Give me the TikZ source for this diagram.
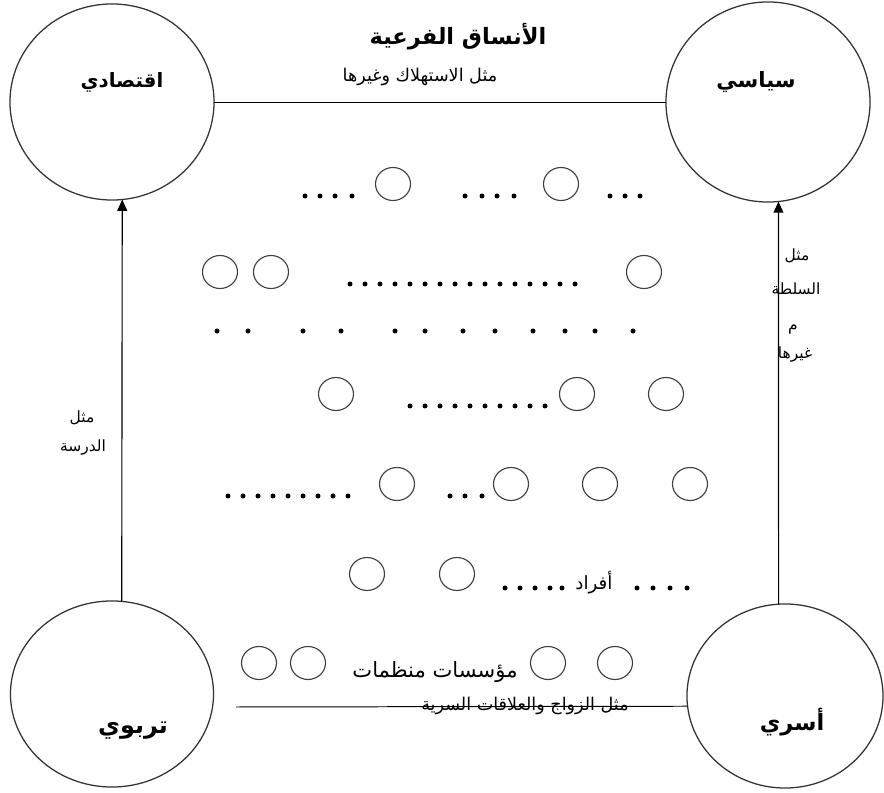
\documentclass[tikz,border=0pt]{standalone}
\usepackage{fontspec}
\usetikzlibrary{shapes.geometric,arrows.meta}
\newfontfamily\arabicfont[Script=Arabic]{DejaVu Sans}
\TeXXeTstate=1
\newcommand{\rtl}[1]{\beginR #1\endR}
\newcommand{\fsz}[1]{\fontsize{#1}{#1}\selectfont}

\tikzset{
  sys/.style={draw, ellipse, line width=0.9pt, draw=black!80, inner sep=0pt, outer sep=0pt},
  conn/.style={line width=0.7pt},
  arr/.style={line width=0.8pt, -{Triangle[length=8pt,width=7pt]}},
  unit/.style={line width=0.8pt, draw=black!75},
  bigtxt/.style={font=\arabicfont\bfseries\fsz{15}},
  midtxt/.style={font=\arabicfont\fsz{14}},
  smalltxt/.style={font=\arabicfont\fsz{11}}
}

\begin{document}
\begin{tikzpicture}[x=0.025cm, y=-0.025cm]
  \useasboundingbox (0,0) rectangle (884,793);

  \node[sys, minimum width=5.1cm, minimum height=4.9cm] (econ) at (112,102) {};
  \node[sys, minimum width=5.1cm, minimum height=5cm] (pol) at (768,102) {};
  \node[sys, minimum width=5.075cm, minimum height=4.65cm] (edu) at (112,694) {};
  \node[sys, minimum width=4.9cm, minimum height=4.6cm] (fam) at (785,696) {};

  \node[bigtxt, font=\arabicfont\bfseries\fsz{14}] (econlbl) at (122,82) {\rtl{اقتصادي}};
  \node[bigtxt] (pollbl) at (756,82) {\rtl{سياسي}};
  \node[bigtxt, font=\arabicfont\bfseries\fsz{17}] (edulbl) at (133,731) {\rtl{تربوي}};
  \node[bigtxt, font=\arabicfont\bfseries\fsz{16}] (famlbl) at (792,722) {\rtl{أسري}};

  \node[bigtxt, font=\arabicfont\bfseries\fsz{16}] (title) at (458,37) {\rtl{الأنساق الفرعية}};
  \node[smalltxt, font=\arabicfont\fsz{12.5}] (consum) at (420,77) {\rtl{مثل الاستهلاك وغيرها}};

  \draw[conn] (econ.east) -- (pol.west);
  \draw[arr] (edu.84) -- (econ.276);
  \draw[arr] (fam.94) -- (pol.276);
  \coordinate (famend) at (236,707);
  \draw[conn] (famend) -- (fam.186);

  \node[smalltxt] (edu1) at (82,418) {\rtl{مثل}};
  \node[smalltxt] (edu2) at (83,448) {\rtl{الدرسة}};
  \node[smalltxt] (pol1) at (797,256) {\rtl{مثل}};
  \node[smalltxt] (pol2) at (796,289) {\rtl{السلطة}};
  \node[smalltxt] (pol3) at (793,330) {\rtl{م}};
  \node[smalltxt] (pol4) at (795,355) {\rtl{غيرها}};

  \node[midtxt, font=\arabicfont\fsz{15}] (orgs) at (435,672) {\rtl{مؤسسات منظمات}};
  \node[smalltxt, font=\arabicfont\fsz{12.5}] (marr) at (525,706) {\rtl{مثل الزواج والعلاقات السرية}};
  \node[midtxt, font=\arabicfont\fsz{13}] (indiv) at (594,583) {\rtl{أفراد}};

  \foreach \x/\y in {393/184, 561/184, 220/272, 271/272, 644/272,
                     336/394, 577/394, 666/394, 397/484, 511/484, 600/484, 690/484,
                     367/574, 457/574, 259/663, 308/663, 548/663, 615/663}
    \draw[unit] (\x,\y) ellipse [x radius=17.5, y radius=16.5];

  \foreach \x in {305,320,335,352,465,482,497,514,610,625,640}
    \fill (\x,196) circle (2.5);
  \foreach \x in {350,365,...,575}
    \fill (\x,284) circle (2.5);
  \foreach \x in {217,248,303,341,395,425,463,495,533,565,595,633}
    \fill (\x,331) circle (2.5);
  \foreach \x in {410,425,...,547}
    \fill (\x,406) circle (2.5);
  \foreach \x in {228,243,...,350,450,465,482}
    \fill (\x,496) circle (2.5);
  \foreach \x in {505,520,535,550,562,637,653,670,687}
    \fill (\x,588) circle (2.5);
\end{tikzpicture}
\end{document}
